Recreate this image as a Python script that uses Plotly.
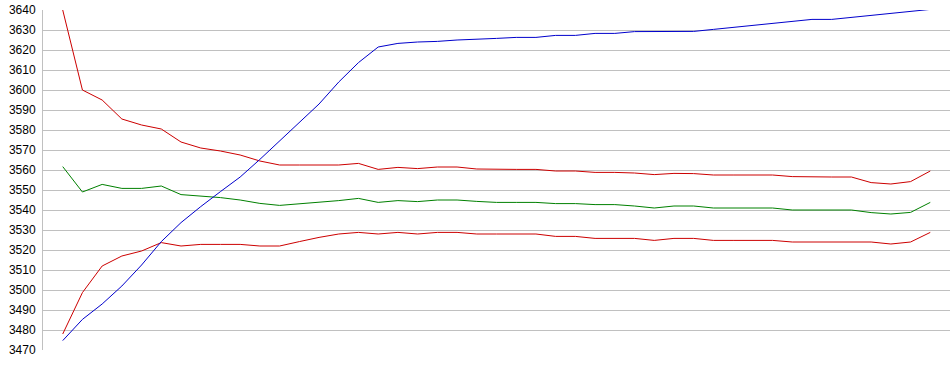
import plotly.graph_objects as go

x_idx = list(range(45))

blue = [3474.7, 3485.3, 3493.0, 3502.0, 3512.5, 3524.2, 3533.7, 3541.7, 3549.2, 3556.5,
        3565.3, 3574.5, 3584.0, 3593.0, 3604.0, 3613.7, 3621.5, 3623.3, 3624.0, 3624.3,
        3625.0, 3625.3, 3625.8, 3626.3, 3626.3, 3627.3, 3627.3, 3628.3, 3628.3, 3629.2,
        3629.3, 3629.3, 3629.3, 3630.3, 3631.3, 3632.3, 3633.0, 3634.0, 3635.3, 3635.3,
        3636.3, 3637.3, 3638.3, 3639.5, 3640.3]

upper = [3640.0, 3600.0, 3595.0, 3585.5, 3582.5, 3580.5, 3574.0, 3571.0, 3569.5, 3567.5,
         3564.5, 3562.5, 3562.5, 3562.5, 3562.5, 3563.3, 3560.3, 3561.3, 3560.7, 3561.5,
         3561.5, 3560.5, 3560.3, 3560.3, 3560.3, 3559.5, 3559.5, 3558.8, 3558.8, 3558.5,
         3557.7, 3558.3, 3558.2, 3557.5, 3557.5, 3557.5, 3557.5, 3556.7, 3556.5, 3556.5,
         3556.5, 3553.7, 3553.0, 3554.2, 3559.5]

middle = [3561.7, 3549.0, 3552.8, 3550.8, 3550.8, 3552.0, 3547.7, 3547.0, 3546.2, 3545.0,
          3543.3, 3542.3, 3543.0, 3543.8, 3544.7, 3545.8, 3543.8, 3544.7, 3544.2, 3545.0,
          3545.0, 3544.3, 3543.8, 3543.8, 3543.8, 3543.2, 3543.2, 3542.7, 3542.7, 3542.0,
          3541.0, 3542.0, 3542.0, 3541.0, 3541.0, 3541.0, 3541.0, 3540.0, 3540.0, 3540.0,
          3540.0, 3538.7, 3538.0, 3538.8, 3543.8]

lower = [3478.0, 3498.7, 3512.0, 3517.0, 3519.5, 3523.7, 3522.0, 3522.8, 3522.8, 3522.8,
         3522.0, 3522.0, 3524.2, 3526.3, 3528.0, 3528.8, 3528.0, 3528.8, 3528.0, 3528.8,
         3528.8, 3528.0, 3528.0, 3528.0, 3528.0, 3526.8, 3526.8, 3525.8, 3525.8, 3525.8,
         3524.8, 3525.8, 3525.8, 3524.8, 3524.8, 3524.8, 3524.8, 3524.0, 3524.0, 3524.0,
         3524.0, 3524.0, 3523.0, 3524.0, 3528.8]

y_ticks = list(range(3470, 3641, 10))

fig = go.Figure()
series = [(upper, "#cc0000", "upper"), (lower, "#cc0000", "lower"),
          (middle, "#008000", "middle"), (blue, "#0000cc", "price")]
for vals, col, name in series:
    fig.add_trace(go.Scatter(x=x_idx, y=vals, mode="lines", name=name,
                             line=dict(color=col, width=1), hoverinfo="skip"))

fig.update_layout(
    width=950, height=375,
    margin=dict(l=43, r=0, t=10, b=25),
    paper_bgcolor="white", plot_bgcolor="white",
    showlegend=False,
    font=dict(family="Liberation Sans, Arial, sans-serif", size=12, color="#000000"),
    xaxis=dict(range=[-1, 45], showgrid=False, zeroline=False, showticklabels=False,
               showline=False, ticks=""),
    yaxis=dict(range=[3470, 3640], tickvals=y_ticks, ticktext=[str(v) for v in y_ticks],
               showgrid=True, gridcolor="#c0c0c0", gridwidth=1, zeroline=False,
               showline=True, linecolor="#c0c0c0", linewidth=1, automargin=False,
               ticks="outside", ticklen=4, tickcolor="rgba(0,0,0,0)"),
)

fig.write_html("out.html", config={"displayModeBar": False},
               post_script="document.body.style.margin='0';document.body.style.overflow='hidden';")
